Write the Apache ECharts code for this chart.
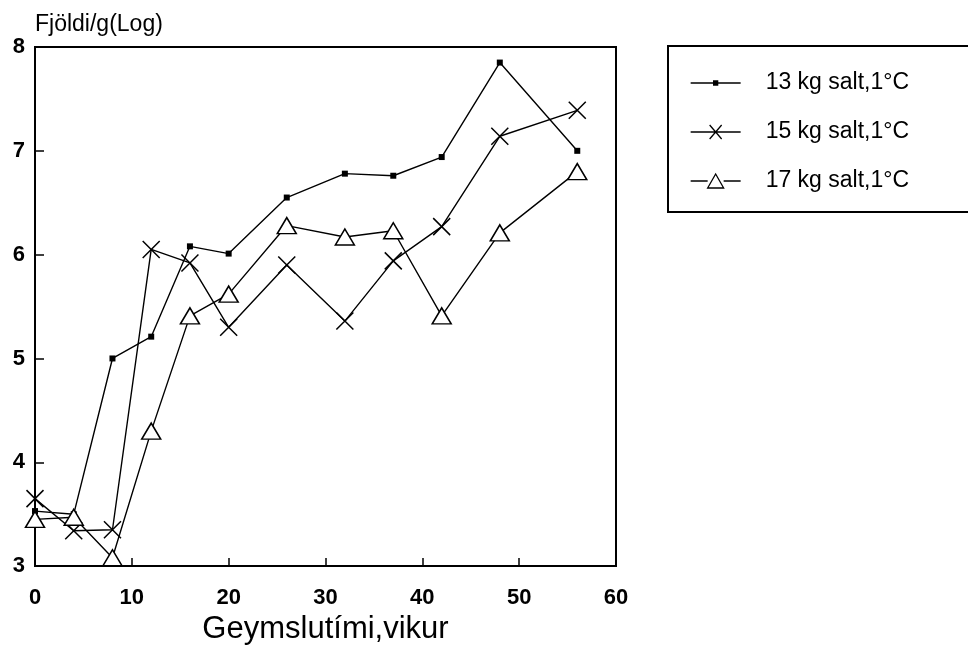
<!DOCTYPE html>
<html>
<head>
<meta charset="utf-8">
<script src="https://cdn.jsdelivr.net/npm/echarts@6/dist/echarts.min.js"></script>
<style>
html,body{margin:0;padding:0;background:#fff;}
#chart{width:968px;height:650px;}
</style>
</head>
<body>
<div id="chart"></div>
<script>
const weeks = [0, 4, 8, 12, 16, 20, 26, 32, 37, 42, 48, 56];
const salt13 = [3.53, 3.5, 5.0, 5.21, 6.08, 6.01, 6.55, 6.78, 6.76, 6.94, 7.85, 7.0];
const salt15 = [3.65, 3.34, 3.35, 6.05, 5.92, 5.3, 5.9, 5.36, 5.94, 6.27, 7.14, 7.39];
const salt17 = [3.45, 3.47, 3.08, 4.3, 5.41, 5.62, 6.28, 6.17, 6.23, 5.41, 6.21, 6.8];
const seriesNames = ['13 kg salt,1°C', '15 kg salt,1°C', '17 kg salt,1°C'];
const xTitle = 'Geymslutími,vikur';
const yTitle = 'Fjöldi/g(Log)';

const FONT = '"Liberation Sans", Arial, Helvetica, sans-serif';
const pair = (ys) => weeks.map((w, i) => [w, ys[i]]);

const chart = echarts.init(document.getElementById('chart'), null, {renderer: 'canvas'});
chart.setOption({
  animation: false,
  backgroundColor: '#fff',
  color: ['#000', '#000', '#000'],
  grid: {
    left: 35, top: 47, right: 352, bottom: 82,
    show: true, borderColor: '#000', borderWidth: 2, backgroundColor: '#fff'
  },
  xAxis: {
    type: 'value', min: 0, max: 60, interval: 10,
    name: xTitle, nameLocation: 'middle', nameGap: 47,
    nameTextStyle: {fontFamily: FONT, fontSize: 31, color: '#000'},
    axisLine: {show: true, lineStyle: {color: '#000', width: 2}},
    axisTick: {show: true, inside: true, length: 8, lineStyle: {color: '#000', width: 1.5}},
    axisLabel: {fontFamily: FONT, fontSize: 22, fontWeight: 'bold', color: '#000', margin: 21},
    splitLine: {show: false}
  },
  yAxis: {
    type: 'value', min: 3, max: 8, interval: 1,
    name: yTitle, nameLocation: 'end', nameGap: 22,
    nameTextStyle: {fontFamily: FONT, fontSize: 23, color: '#000', align: 'left', verticalAlign: 'middle'},
    axisLine: {show: true, lineStyle: {color: '#000', width: 2}},
    axisTick: {show: true, inside: true, length: 9, lineStyle: {color: '#000', width: 1.5}},
    axisLabel: {fontFamily: FONT, fontSize: 22, fontWeight: 'bold', color: '#000', margin: 10},
    splitLine: {show: false}
  },
  legend: {
    left: 668, top: 46, orient: 'vertical',
    padding: [25, 90, 19, 22],
    itemWidth: 50, itemHeight: 16, itemGap: 25,
    borderColor: '#000', borderWidth: 2, backgroundColor: '#fff',
    textStyle: {fontFamily: FONT, fontSize: 23, color: '#000', lineHeight: 24, padding: [0, 0, 0, 20]},
    data: [
      {name: seriesNames[0], icon: 'path://M0,8L50,8M23,6L27,6L27,10L23,10Z',
       itemStyle: {color: '#000', borderColor: '#000', borderWidth: 1.3}},
      {name: seriesNames[1], icon: 'path://M0,8L50,8M19,1L31,15M31,1L19,15',
       itemStyle: {color: '#000', borderColor: '#000', borderWidth: 1.3}},
      {name: seriesNames[2], icon: 'path://M0,8L17,8M33,8L50,8M25,1L33,15L17,15Z',
       itemStyle: {color: '#fff', borderColor: '#000', borderWidth: 1.3}}
    ]
  },
  series: [
    {
      name: seriesNames[0], type: 'line', data: pair(salt13),
      symbol: 'rect', symbolSize: 6,
      lineStyle: {color: '#000', width: 1.4},
      itemStyle: {color: '#000', borderColor: '#000', borderWidth: 0},
      z: 3
    },
    {
      name: seriesNames[1], type: 'line', data: pair(salt15),
      symbol: 'path://M0,0L10,10M10,0L0,10', symbolSize: 17,
      lineStyle: {color: '#000', width: 1.4},
      itemStyle: {color: '#000', borderColor: '#000', borderWidth: 1.5},
      z: 4
    },
    {
      name: seriesNames[2], type: 'line', data: pair(salt17),
      symbol: 'triangle', symbolSize: [19, 16],
      lineStyle: {color: '#000', width: 1.4},
      itemStyle: {color: '#fff', borderColor: '#000', borderWidth: 1.5},
      z: 5
    }
  ]
});
</script>
</body>
</html>
